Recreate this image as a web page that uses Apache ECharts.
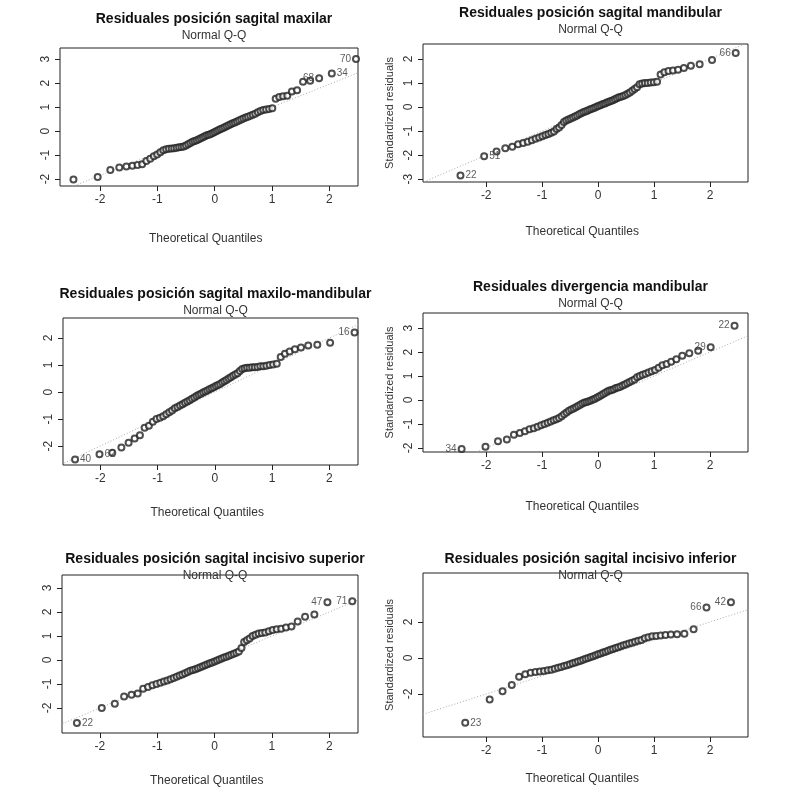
<!DOCTYPE html>
<html>
<head>
<meta charset="utf-8">
<script src="https://cdn.jsdelivr.net/npm/echarts@6/dist/echarts.min.js"></script>
<style>html,body{margin:0;background:#fff}#chart{width:786px;height:793px}</style>
</head>
<body>
<div id="chart"></div>
<script>
// sorted standardized residuals
var resMaxilar = [-2.02,-1.92,-1.62,-1.52,-1.48,-1.45,-1.42,-1.38,-1.25,-1.15,-1.05,-0.98,-0.88,-0.8,-0.76,-0.74,-0.73,-0.72,-0.7,-0.68,-0.66,-0.64,-0.6,-0.55,-0.5,-0.45,-0.42,-0.38,-0.34,-0.3,-0.26,-0.22,-0.18,-0.15,-0.12,-0.08,-0.04,0.0,0.04,0.08,0.12,0.16,0.2,0.24,0.28,0.32,0.36,0.4,0.44,0.48,0.52,0.56,0.6,0.64,0.68,0.72,0.78,0.84,0.88,0.9,0.92,0.95,1.35,1.42,1.45,1.47,1.65,1.7,2.05,2.1,2.2,2.4,3.0];
var resMandibular = [-2.85,-2.05,-1.85,-1.72,-1.65,-1.55,-1.5,-1.45,-1.38,-1.32,-1.27,-1.22,-1.17,-1.12,-1.07,-1.02,-0.92,-0.85,-0.75,-0.62,-0.56,-0.52,-0.48,-0.44,-0.4,-0.35,-0.3,-0.26,-0.22,-0.19,-0.16,-0.12,-0.08,-0.05,-0.02,0.02,0.05,0.08,0.12,0.15,0.19,0.22,0.25,0.28,0.32,0.36,0.4,0.43,0.46,0.5,0.55,0.6,0.68,0.75,0.82,0.95,0.98,1.0,1.0,1.02,1.03,1.05,1.35,1.45,1.5,1.52,1.55,1.62,1.72,1.78,1.95,2.25];
var resMaxiloMand = [-2.5,-2.3,-2.25,-2.05,-1.88,-1.72,-1.6,-1.32,-1.25,-1.1,-1.0,-0.95,-0.9,-0.82,-0.75,-0.68,-0.6,-0.55,-0.5,-0.45,-0.4,-0.35,-0.3,-0.25,-0.2,-0.15,-0.1,-0.06,-0.02,0.02,0.06,0.1,0.14,0.18,0.22,0.26,0.3,0.35,0.4,0.45,0.5,0.55,0.6,0.65,0.7,0.78,0.85,0.88,0.9,0.9,0.92,0.92,0.93,0.95,0.95,0.97,1.0,1.02,1.05,1.3,1.42,1.5,1.58,1.65,1.72,1.75,1.82,2.2];
var resDivergencia = [-2.05,-1.95,-1.72,-1.65,-1.45,-1.38,-1.3,-1.22,-1.18,-1.12,-1.05,-1.0,-0.95,-0.9,-0.85,-0.8,-0.75,-0.68,-0.6,-0.52,-0.45,-0.4,-0.35,-0.3,-0.25,-0.2,-0.15,-0.1,-0.08,-0.05,-0.02,0.02,0.05,0.1,0.15,0.2,0.25,0.3,0.35,0.4,0.42,0.45,0.5,0.52,0.55,0.6,0.65,0.7,0.75,0.8,0.85,0.95,1.0,1.05,1.1,1.15,1.2,1.25,1.35,1.45,1.5,1.6,1.7,1.85,1.95,2.05,2.2,3.1];
var resIncSup = [-2.62,-2.0,-1.82,-1.52,-1.45,-1.4,-1.2,-1.12,-1.05,-1.0,-0.95,-0.9,-0.85,-0.8,-0.75,-0.7,-0.65,-0.6,-0.55,-0.5,-0.45,-0.42,-0.38,-0.34,-0.3,-0.26,-0.22,-0.18,-0.14,-0.1,-0.06,-0.02,0.02,0.06,0.1,0.14,0.18,0.22,0.26,0.3,0.35,0.5,0.75,0.82,0.9,1.0,1.05,1.1,1.12,1.15,1.2,1.25,1.28,1.3,1.35,1.4,1.6,1.8,1.9,2.4,2.45];
var resIncInf = [-3.6,-2.3,-1.85,-1.5,-1.05,-0.9,-0.82,-0.78,-0.75,-0.72,-0.68,-0.65,-0.6,-0.55,-0.5,-0.45,-0.4,-0.35,-0.3,-0.25,-0.2,-0.15,-0.1,-0.05,0.0,0.05,0.1,0.15,0.2,0.25,0.3,0.35,0.4,0.45,0.5,0.55,0.6,0.65,0.7,0.75,0.8,0.85,0.9,0.95,1.0,1.1,1.15,1.2,1.22,1.25,1.28,1.3,1.32,1.35,1.6,2.8,3.1];

var panelTitles = ['Residuales posición sagital maxilar','Residuales posición sagital mandibular','Residuales posición sagital maxilo-mandibular','Residuales divergencia mandibular','Residuales posición sagital incisivo superior','Residuales posición sagital incisivo inferior'];
// labelled points: [index from start (>=0) or end (<0), text, side]
var outliers = [
  [[-1,'70','left'],[-2,'34','right'],[-3,'68','left']],
  [[-1,'66','left'],[0,'22','right'],[1,'51','right']],
  [[-1,'16','left'],[0,'40','right'],[1,'62','right']],
  [[-1,'22','left'],[-2,'29','left'],[0,'34','left']],
  [[-1,'71','left'],[-2,'47','left'],[0,'22','right']],
  [[-1,'42','left'],[-2,'66','left'],[0,'23','right']]
];
// qqline slope / intercept
var lineSlope = [0.95,1.0,1.0,1.0,1.0,1.0];
var lineIntercept = [0.05,0.0,0.0,0.0,0.0,0.0];
var yTicks = [[-2,-1,0,1,2,3],[-3,-2,-1,0,1,2],[-2,-1,0,1,2],[-2,-1,0,1,2,3],[-2,-1,0,1,2,3],[-2,0,2]];
var xTicks = [-2,-1,0,1,2];

var residuals = [resMaxilar,resMandibular,resMaxiloMand,resDivergencia,resIncSup,resIncInf];

// layout of each plot box
var boxes = [
  {l:60,t:48,w:298,h:138,x:[-2.7,2.5],y:[-2.29,3.46],ttl:7,xl:240},
  {l:423,t:44,w:325,h:138,x:[-3.13,2.68],y:[-3.12,2.62],ttl:1,xl:233},
  {l:63,t:318,w:295,h:147,x:[-2.65,2.5],y:[-2.7,2.74],ttl:282,xl:514},
  {l:423,t:313,w:325,h:139,x:[-3.13,2.68],y:[-2.17,3.63],ttl:275,xl:508},
  {l:62,t:575,w:296,h:158,x:[-2.66,2.5],y:[-3.04,3.54],ttl:547,xl:782},
  {l:423,t:573,w:325,h:164,x:[-3.13,2.68],y:[-4.39,4.72],ttl:547,xl:780}
];

function qnorm(p) {
  var a=[-39.69683028665376,220.9460984245205,-275.9285104469687,138.3577518672690,-30.66479806614716,2.506628277459239];
  var b=[-54.47609879822406,161.5858368580409,-155.6989798598866,66.80131188771972,-13.28068155288572];
  var c=[-0.007784894002430293,-0.3223964580411365,-2.400758277161838,-2.549732539343734,4.374664141464968,2.938163982698783];
  var d=[0.007784695709041462,0.3224671290700398,2.445134137142996,3.754408661907416];
  var q,r;
  if (p<0.02425){q=Math.sqrt(-2*Math.log(p));return (((((c[0]*q+c[1])*q+c[2])*q+c[3])*q+c[4])*q+c[5])/((((d[0]*q+d[1])*q+d[2])*q+d[3])*q+1);}
  if (p>1-0.02425){q=Math.sqrt(-2*Math.log(1-p));return -(((((c[0]*q+c[1])*q+c[2])*q+c[3])*q+c[4])*q+c[5])/((((d[0]*q+d[1])*q+d[2])*q+d[3])*q+1);}
  q=p-0.5;r=q*q;
  return (((((a[0]*r+a[1])*r+a[2])*r+a[3])*r+a[4])*r+a[5])*q/(((((b[0]*r+b[1])*r+b[2])*r+b[3])*r+b[4])*r+1);
}

var font = 'Liberation Sans, Arial, sans-serif';
var grid=[],xAxis=[],yAxis=[],series=[],titles=[],graphics=[];

boxes.forEach(function (bx, k) {
  var res = residuals[k], n = res.length;
  var pts = res.map(function (v, i) { return [qnorm((i + 1 - 0.5) / n), v]; });
  outliers[k].forEach(function (o) {
    var idx = o[0] < 0 ? n + o[0] : o[0];
    pts[idx] = {value: pts[idx], label: {show: true, formatter: o[1], position: o[2], distance: 1, color: '#333', fontSize: 10, fontFamily: font}};
  });
  grid.push({left: bx.l, top: bx.t, width: bx.w, height: bx.h, show: true, borderColor: '#222', borderWidth: 1, backgroundColor: 'transparent'});
  xAxis.push({gridIndex: k, type: 'value', min: bx.x[0], max: bx.x[1], splitLine: {show: false},
    axisLine: {show: false, onZero: false}, axisTick: {show: true, length: 5, lineStyle: {color: '#222'}, customValues: xTicks},
    axisLabel: {customValues: xTicks, color: '#333', fontSize: 12, fontFamily: font, margin: 8}});
  yAxis.push({gridIndex: k, type: 'value', min: bx.y[0], max: bx.y[1], splitLine: {show: false},
    name: k % 2 ? 'Standardized residuals' : '', nameLocation: 'middle', nameGap: 28,
    nameTextStyle: {color: '#333', fontSize: 11, fontFamily: font},
    axisLine: {show: false, onZero: false}, axisTick: {show: true, length: 5, lineStyle: {color: '#222'}, customValues: yTicks[k]},
    axisLabel: {customValues: yTicks[k], rotate: 90, color: '#333', fontSize: 12, fontFamily: font, margin: 8}});
  series.push({type: 'scatter', xAxisIndex: k, yAxisIndex: k, data: pts, symbol: 'emptyCircle', symbolSize: 6,
    itemStyle: {color: '#222', borderWidth: 0.9}, z: 3, silent: true});
  series.push({type: 'line', xAxisIndex: k, yAxisIndex: k, symbol: 'none', silent: true, z: 2,
    data: [[-4, lineIntercept[k] - 4 * lineSlope[k]], [4, lineIntercept[k] + 4 * lineSlope[k]]],
    lineStyle: {color: '#aaa', type: [1, 2], width: 1}, clip: true});
  var cx = bx.l + bx.w / 2;
  titles.push({text: panelTitles[k], left: cx, top: bx.ttl, textAlign: 'center', itemGap: 4,
    textStyle: {fontSize: 14, fontWeight: 'bold', color: '#111', fontFamily: font},
    subtext: 'Normal Q-Q', subtextStyle: {fontSize: 12, color: '#333', fontFamily: font}});
  graphics.push({type: 'text', left: cx - 60, top: bx.xl - 7, style: {text: 'Theoretical Quantiles', fontSize: 12, fill: '#333', font: '12px ' + font}});
});

var chart = echarts.init(document.getElementById('chart'));
chart.setOption({animation: false, backgroundColor: '#fff', title: titles, grid: grid, xAxis: xAxis, yAxis: yAxis, series: series, graphic: graphics});
</script>
</body>
</html>
